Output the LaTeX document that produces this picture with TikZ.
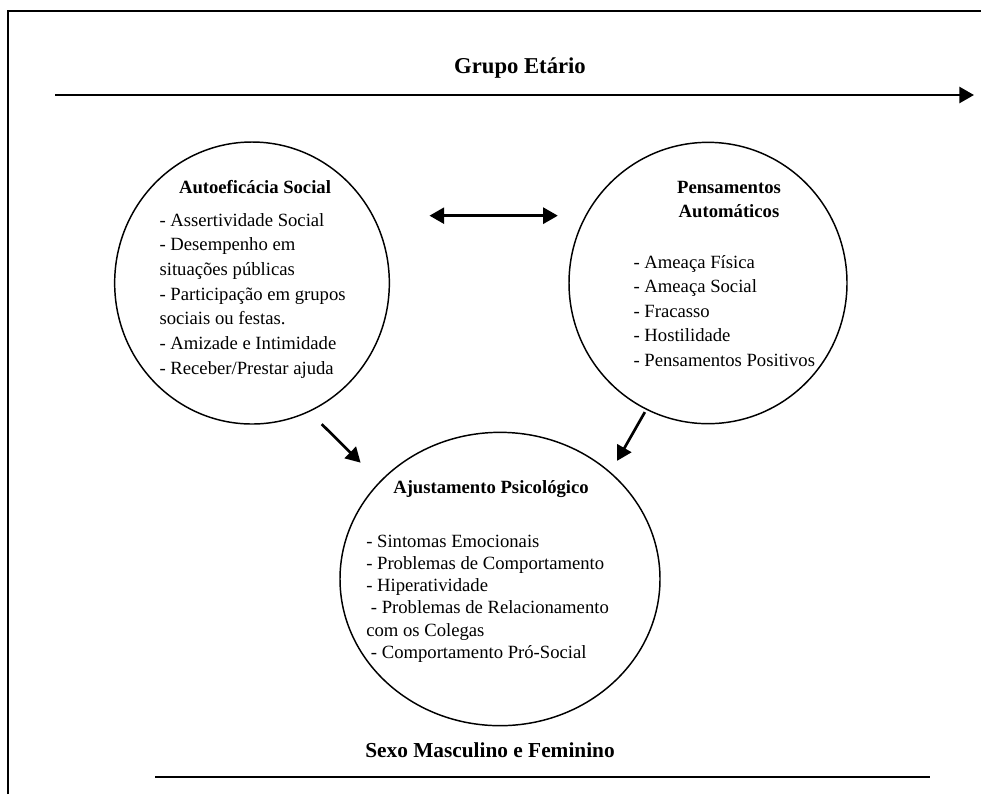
\documentclass[tikz,border=0pt]{standalone}
\usepackage{fontspec}
\setmainfont{Liberation Serif}
\usetikzlibrary{arrows.meta,shapes.geometric}

\begin{document}
\begin{tikzpicture}[x=0.75pt,y=-0.75pt,
		bubble/.style={draw,ellipse,line width=1.1pt,inner sep=0pt},
		item/.style={anchor=base west,inner sep=0pt,font=\fontsize{14}{17}\selectfont},
		title/.style={anchor=base,inner sep=0pt,font=\fontsize{14}{17}\selectfont\bfseries},
		axis/.style={anchor=base,inner sep=0pt,font=\fontsize{#1}{20}\selectfont\bfseries},
		arr/.style={line width=2pt,-{Triangle[length=11pt,width=12pt]}},
		darr/.style={line width=2pt,{Triangle[length=11pt,width=12pt]}-{Triangle[length=11pt,width=12pt]}}]
			\useasboundingbox (0,0) rectangle (981,794);

			% moldura
			\draw[line width=1.2pt] (8,794)--(8,11)--(981,11);

			% eixos
			\coordinate (ge-a) at (55,95);
			\coordinate (ge-b) at (974,95);
			\draw[arr] (ge-a)--(ge-b);
			\node[axis=17] (grupo) at (520,73) {Grupo Etário};

			\coordinate (sx-a) at (155,777);
			\coordinate (sx-b) at (930,777);
			\draw[line width=2pt] (sx-a)--(sx-b);
			\node[axis=16] (sexo) at (490,757) {Sexo Masculino e Feminino};

			% circulos
			\node[bubble, minimum width=206pt, minimum height=211.5pt] (autoef) at (252,283) {};
			\node[bubble, minimum width=208.5pt, minimum height=211pt] (pensam) at (708,283) {};
			\node[bubble, minimum width=240pt, minimum height=220pt] (ajust) at (500,579) {};

			\node[title] (t-ae) at (255,193) {Autoeficácia Social};
			\foreach \t [count=\i] in {- Assertividade Social, - Desempenho em, situações públicas,
				- Participação em grupos, sociais ou festas., - Amizade e Intimidade, - Receber/Prestar ajuda}
				\node[item] (ae-\i) at (159.3,226+24.7*\i-24.7) {\t};

			\node[title] (t-pa1) at (729,193) {Pensamentos};
			\node[title] (t-pa2) at (729,217) {Automáticos};
			\foreach \t [count=\i] in {- Ameaça Física, - Ameaça Social, - Fracasso, - Hostilidade, - Pensamentos Positivos}
				\node[item] (pa-\i) at (633.3,268+24.6*\i-24.6) {\t};

			\node[title] (t-aj) at (491,493) {Ajustamento Psicológico};
			\foreach \t [count=\i] in {- Sintomas Emocionais, - Problemas de Comportamento, - Hiperatividade,
				\ - Problemas de Relacionamento, com os Colegas, \ - Comportamento Pró-Social}
				\node[item] (aj-\i) at (366,547+22.3*\i-22.3) {\t};

			% setas
			\draw[darr, shorten <=42pt, shorten >=21.6pt] (autoef.29.9)--(pensam.150.3 |- autoef.29.9);
			\draw[arr, shorten <=13pt, shorten >=20pt] (autoef.-66.6)--(ajust.141.6);
			\draw[arr, shorten <=2pt, shorten >=9.75pt] (pensam.-116.3)--(ajust.44.9);
		\end{tikzpicture}
\end{document}
